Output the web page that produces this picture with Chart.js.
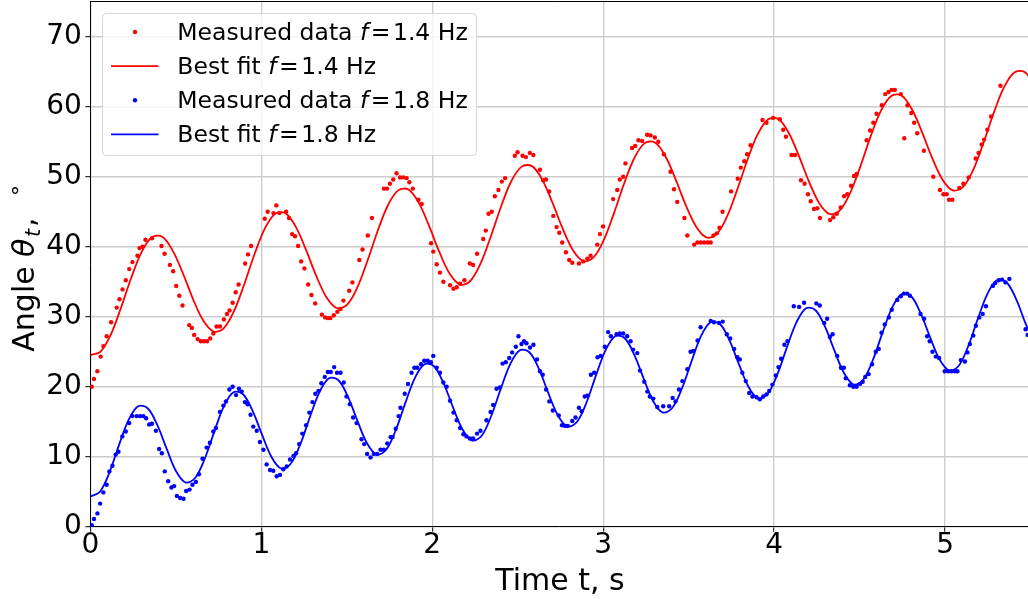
<!DOCTYPE html>
<html>
<head>
<meta charset="utf-8">
<script src="https://cdn.jsdelivr.net/npm/chart.js@4.4.0/dist/chart.umd.min.js"></script>
<style>
  html, body { margin: 0; padding: 0; background: #fff; }
  canvas { display: block; }
</style>
</head>
<body>
<canvas id="chart" width="1028" height="599"></canvas>
<script>
"use strict";

// measured angle, f = 1.4 Hz (time in s, angle in degrees)
const redTime = [
    0.008, 0.021, 0.041, 0.060, 0.076, 0.095, 0.121, 0.154, 0.170, 0.188,
    0.207, 0.227, 0.246, 0.275, 0.287, 0.305, 0.322, 0.361, 0.416, 0.434,
    0.465, 0.484, 0.502, 0.520, 0.539, 0.578, 0.594, 0.607, 0.627, 0.646,
    0.664, 0.682, 0.701, 0.719, 0.738, 0.758, 0.781, 0.799, 0.814, 0.832,
    0.850, 0.867, 0.905, 0.922, 0.940, 1.020, 1.037, 1.071, 1.088, 1.106,
    1.145, 1.162, 1.180, 1.197, 1.215, 1.233, 1.252, 1.274, 1.293, 1.315,
    1.354, 1.373, 1.389, 1.404, 1.424, 1.445, 1.463, 1.480, 1.514, 1.533,
    1.573, 1.592, 1.623, 1.647, 1.717, 1.735, 1.752, 1.772, 1.791, 1.811,
    1.830, 1.850, 1.866, 1.886, 1.919, 1.938, 1.993, 2.006, 2.026, 2.045,
    2.065, 2.104, 2.124, 2.143, 2.163, 2.188, 2.220, 2.239, 2.262, 2.298,
    2.313, 2.329, 2.348, 2.366, 2.387, 2.407, 2.426, 2.483, 2.499, 2.528,
    2.548, 2.571, 2.591, 2.630, 2.649, 2.665, 2.684, 2.708, 2.727, 2.743,
    2.760, 2.782, 2.801, 2.819, 2.858, 2.883, 2.907, 2.926, 2.965, 2.981,
    2.999, 3.058, 3.082, 3.097, 3.117, 3.130, 3.169, 3.187, 3.206, 3.228,
    3.257, 3.277, 3.302, 3.322, 3.355, 3.394, 3.414, 3.433, 3.475, 3.492,
    3.532, 3.551, 3.571, 3.591, 3.611, 3.629, 3.645, 3.664, 3.680, 3.698,
    3.748, 3.787, 3.805, 3.825, 3.842, 3.862, 3.932, 3.955, 3.994, 4.033,
    4.053, 4.069, 4.102, 4.122, 4.157, 4.178, 4.198, 4.214, 4.233, 4.252,
    4.268, 4.327, 4.346, 4.366, 4.389, 4.409, 4.428, 4.450, 4.467, 4.483,
    4.541, 4.561, 4.580, 4.599, 4.630, 4.650, 4.669, 4.687, 4.706, 4.741,
    4.761, 4.780, 4.802, 4.819, 4.837, 4.876, 4.931, 4.970, 4.990, 5.009,
    5.023, 5.042, 5.083, 5.107, 5.138, 5.179, 5.196, 5.214, 5.228, 5.247,
    5.269, 5.324
];
const redAngle = [
    20.0, 21.1, 22.2, 24.3, 25.8, 27.2, 29.2, 31.3, 32.5, 33.9,
    35.2, 36.8, 37.8, 38.7, 39.8, 40.0, 41.0, 41.2, 40.1, 39.0,
    37.4, 36.5, 34.4, 33.0, 31.6, 28.8, 28.4, 27.4, 26.8, 26.5,
    26.5, 26.5, 26.9, 27.6, 28.6, 28.6, 29.6, 30.4, 30.9, 32.0,
    33.5, 34.6, 37.6, 38.9, 40.1, 44.0, 45.0, 44.8, 45.9, 44.8,
    45.0, 44.1, 41.8, 41.5, 40.1, 37.9, 36.9, 34.6, 33.1, 31.9,
    30.3, 29.9, 29.8, 29.8, 30.2, 30.7, 31.1, 32.3, 33.7, 34.9,
    38.1, 39.6, 41.6, 44.1, 48.3, 48.3, 49.0, 49.6, 50.5, 49.9,
    49.9, 49.8, 49.2, 48.3, 46.7, 46.1, 40.5, 39.3, 37.5, 36.3,
    35.0, 34.5, 34.0, 34.2, 34.7, 35.2, 37.6, 37.4, 39.0, 41.1,
    42.3, 44.7, 45.0, 47.2, 48.1, 49.3, 49.8, 53.0, 53.5, 53.0,
    52.8, 53.4, 53.1, 51.0, 49.5, 49.6, 47.9, 44.4, 42.8, 42.0,
    40.6, 39.2, 38.1, 37.7, 37.6, 37.9, 38.3, 38.7, 40.3, 41.8,
    42.9, 46.8, 48.1, 49.6, 50.0, 51.9, 54.1, 54.4, 55.2, 55.1,
    56.0, 55.9, 55.6, 55.0, 53.2, 50.7, 48.2, 46.4, 44.1, 41.6,
    40.3, 40.6, 40.6, 40.6, 40.6, 40.6, 41.6, 41.9, 42.7, 45.0,
    47.9, 49.7, 51.3, 52.2, 53.2, 54.5, 58.1, 57.7, 58.4, 58.2,
    56.7, 55.7, 53.1, 53.1, 49.5, 49.0, 47.5, 46.5, 45.4, 45.5,
    44.1, 43.8, 44.2, 44.7, 45.6, 47.2, 47.5, 48.7, 50.1, 50.4,
    55.2, 56.6, 57.7, 59.0, 60.2, 61.8, 62.1, 62.4, 62.4, 61.8,
    55.5, 60.2, 59.1, 57.7, 56.2, 53.7, 50.0, 48.1, 47.5, 47.5,
    46.7, 46.7, 48.4, 49.0, 49.9, 52.6, 53.4, 54.6, 55.3, 56.7,
    58.6, 63.0
];

// measured angle, f = 1.8 Hz
const blueTime = [
    0.008, 0.021, 0.041, 0.057, 0.076, 0.095, 0.111, 0.129, 0.148, 0.164,
    0.187, 0.207, 0.227, 0.246, 0.271, 0.291, 0.310, 0.326, 0.344, 0.360,
    0.383, 0.402, 0.418, 0.435, 0.455, 0.474, 0.490, 0.506, 0.525, 0.545,
    0.560, 0.580, 0.597, 0.617, 0.635, 0.656, 0.680, 0.699, 0.719, 0.734,
    0.758, 0.778, 0.793, 0.813, 0.832, 0.852, 0.869, 0.885, 0.904, 0.920,
    0.937, 0.953, 0.973, 0.992, 1.012, 1.031, 1.051, 1.070, 1.090, 1.109,
    1.129, 1.148, 1.168, 1.188, 1.203, 1.221, 1.240, 1.262, 1.281, 1.299,
    1.316, 1.334, 1.351, 1.371, 1.389, 1.406, 1.426, 1.443, 1.463, 1.482,
    1.498, 1.518, 1.537, 1.557, 1.586, 1.602, 1.619, 1.639, 1.658, 1.678,
    1.697, 1.717, 1.737, 1.756, 1.768, 1.786, 1.803, 1.814, 1.839, 1.858,
    1.879, 1.895, 1.912, 1.934, 1.953, 1.973, 1.992, 2.006, 2.026, 2.045,
    2.065, 2.084, 2.104, 2.124, 2.143, 2.163, 2.182, 2.200, 2.220, 2.239,
    2.262, 2.282, 2.317, 2.341, 2.356, 2.376, 2.395, 2.411, 2.430, 2.450,
    2.467, 2.489, 2.504, 2.522, 2.537, 2.551, 2.572, 2.592, 2.613, 2.630,
    2.646, 2.666, 2.685, 2.705, 2.740, 2.759, 2.777, 2.792, 2.819, 2.838,
    2.858, 2.874, 2.892, 2.908, 2.928, 2.947, 2.967, 2.986, 3.009, 3.029,
    3.045, 3.078, 3.097, 3.117, 3.140, 3.160, 3.175, 3.199, 3.215, 3.240,
    3.258, 3.273, 3.293, 3.316, 3.351, 3.386, 3.406, 3.423, 3.443, 3.463,
    3.492, 3.511, 3.527, 3.552, 3.570, 3.629, 3.648, 3.677, 3.699, 3.723,
    3.743, 3.766, 3.785, 3.799, 3.814, 3.834, 3.854, 3.873, 3.897, 3.916,
    3.936, 3.955, 3.971, 3.990, 4.010, 4.025, 4.041, 4.060, 4.078, 4.115,
    4.146, 4.175, 4.247, 4.267, 4.293, 4.310, 4.326, 4.342, 4.369, 4.391,
    4.408, 4.419, 4.443, 4.463, 4.482, 4.502, 4.518, 4.533, 4.553, 4.573,
    4.595, 4.612, 4.628, 4.647, 4.671, 4.688, 4.720, 4.741, 4.759, 4.778,
    4.794, 4.856, 4.877, 4.895, 4.910, 4.926, 4.946, 4.965, 4.998, 5.018,
    5.037, 5.057, 5.072, 5.092, 5.116, 5.131, 5.145, 5.165, 5.180, 5.200,
    5.220, 5.239, 5.279, 5.294, 5.314, 5.333, 5.353, 5.376, 5.471, 5.483
];
const blueAngle = [
    0.2, 1.1, 1.9, 3.3, 4.9, 6.0, 7.9, 8.7, 10.3, 10.7,
    12.9, 13.6, 14.8, 15.8, 15.8, 15.8, 15.8, 15.5, 14.6, 14.7,
    13.7, 11.1, 10.5, 7.9, 6.5, 5.6, 5.8, 4.4, 4.1, 4.0,
    5.1, 5.3, 6.0, 6.4, 7.5, 9.7, 11.3, 12.0, 13.6, 14.1,
    16.4, 17.3, 17.9, 19.6, 20.0, 18.8, 19.7, 19.3, 17.8, 17.5,
    16.0, 14.3, 13.7, 12.1, 11.0, 8.9, 8.1, 8.0, 7.2, 7.4,
    8.2, 8.6, 9.6, 10.1, 10.5, 11.8, 13.3, 14.5, 16.3, 17.8,
    19.0, 19.4, 20.5, 21.4, 22.1, 22.1, 22.8, 22.0, 22.0, 20.6,
    18.6, 17.5, 15.6, 14.8, 12.5, 11.8, 10.4, 9.9, 10.4, 10.4,
    11.0, 11.0, 11.9, 12.8, 12.8, 14.0, 15.8, 17.0, 19.0, 20.4,
    22.0, 22.7, 22.7, 23.2, 23.7, 23.7, 23.5, 24.4, 22.7, 22.0,
    20.6, 20.0, 18.0, 16.3, 15.2, 14.1, 13.2, 12.9, 12.6, 12.6,
    13.3, 13.7, 15.2, 16.4, 17.4, 19.7, 19.9, 23.3, 23.5, 24.1,
    24.9, 25.7, 27.2, 26.1, 26.5, 26.2, 25.6, 26.0, 23.9, 22.2,
    21.7, 19.6, 17.9, 16.6, 15.9, 14.5, 14.4, 14.4, 15.1, 15.6,
    17.0, 16.5, 18.6, 18.7, 21.7, 22.0, 24.2, 24.4, 25.7, 27.8,
    27.2, 27.5, 27.6, 27.6, 27.2, 26.5, 25.3, 24.8, 22.3, 20.7,
    19.3, 18.6, 18.3, 17.1, 17.2, 17.2, 18.4, 17.9, 19.6, 20.8,
    22.5, 25.0, 25.1, 26.6, 28.5, 29.4, 29.2, 29.1, 29.3, 27.5,
    26.9, 25.4, 24.2, 23.9, 22.0, 20.8, 19.1, 18.6, 18.5, 18.2,
    18.6, 18.9, 19.4, 20.3, 21.6, 22.8, 24.0, 26.0, 26.5, 31.5,
    31.4, 32.0, 31.9, 31.6, 29.1, 29.7, 27.1, 27.5, 24.4, 22.7,
    22.7, 21.2, 20.2, 20.0, 20.0, 20.4, 20.7, 21.4, 21.8, 23.2,
    25.0, 25.4, 27.7, 28.9, 29.9, 31.0, 32.4, 32.9, 33.3, 33.3,
    33.0, 30.4, 29.7, 27.2, 26.5, 25.0, 24.3, 24.1, 22.2, 22.2,
    22.2, 22.2, 22.2, 23.8, 23.6, 24.9, 26.1, 27.3, 28.7, 29.9,
    30.4, 31.5, 34.4, 34.8, 35.2, 35.3, 34.9, 35.4, 28.2, 27.4
];

// best fit curve, f = 1.4 Hz
const redFitTime = [
    0.000, 0.060, 0.120, 0.180, 0.240, 0.300, 0.360, 0.420, 0.480, 0.541,
    0.601, 0.661, 0.721, 0.781, 0.841, 0.901, 0.961, 1.021, 1.081, 1.141,
    1.201, 1.261, 1.321, 1.381, 1.441, 1.502, 1.562, 1.622, 1.682, 1.742,
    1.802, 1.862, 1.922, 1.982, 2.042, 2.102, 2.162, 2.222, 2.282, 2.342,
    2.402, 2.462, 2.523, 2.583, 2.643, 2.703, 2.763, 2.823, 2.883, 2.943,
    3.003, 3.063, 3.123, 3.183, 3.243, 3.303, 3.363, 3.423, 3.483, 3.544,
    3.604, 3.664, 3.724, 3.784, 3.844, 3.904, 3.964, 4.024, 4.084, 4.144,
    4.204, 4.264, 4.324, 4.384, 4.444, 4.505, 4.565, 4.625, 4.685, 4.745,
    4.805, 4.865, 4.925, 4.985, 5.045, 5.105, 5.165, 5.225, 5.285, 5.345,
    5.405, 5.465, 5.526
];
const redFitAngle = [
    24.52, 25.02, 27.49, 31.35, 35.63, 39.27, 41.36, 41.43, 39.51, 36.21,
    32.49, 29.41, 27.88, 28.38, 30.85, 34.71, 38.99, 42.63, 44.72, 44.79,
    42.87, 39.57, 35.85, 32.77, 31.24, 31.74, 34.21, 38.07, 42.35, 45.99,
    48.08, 48.15, 46.23, 42.93, 39.21, 36.13, 34.60, 35.10, 37.57, 41.43,
    45.71, 49.35, 51.44, 51.51, 49.59, 46.29, 42.57, 39.49, 37.96, 38.46,
    40.93, 44.79, 49.07, 52.71, 54.80, 54.87, 52.95, 49.65, 45.93, 42.85,
    41.32, 41.82, 44.29, 48.15, 52.43, 56.07, 58.16, 58.23, 56.31, 53.01,
    49.29, 46.21, 44.68, 45.18, 47.65, 51.51, 55.79, 59.43, 61.52, 61.59,
    59.67, 56.37, 52.65, 49.57, 48.04, 48.54, 51.01, 54.87, 59.15, 62.79,
    64.88, 64.95, 63.03
];

// best fit curve, f = 1.8 Hz
const blueFitTime = [
    0.000, 0.056, 0.112, 0.167, 0.223, 0.279, 0.335, 0.391, 0.447, 0.502,
    0.558, 0.614, 0.670, 0.726, 0.781, 0.837, 0.893, 0.949, 1.005, 1.061,
    1.116, 1.172, 1.228, 1.284, 1.340, 1.396, 1.451, 1.507, 1.563, 1.619,
    1.675, 1.730, 1.786, 1.842, 1.898, 1.954, 2.010, 2.065, 2.121, 2.177,
    2.233, 2.289, 2.344, 2.400, 2.456, 2.512, 2.568, 2.624, 2.679, 2.735,
    2.791, 2.847, 2.903, 2.958, 3.014, 3.070, 3.126, 3.182, 3.238, 3.293,
    3.349, 3.405, 3.461, 3.517, 3.572, 3.628, 3.684, 3.740, 3.796, 3.852,
    3.907, 3.963, 4.019, 4.075, 4.131, 4.187, 4.242, 4.298, 4.354, 4.410,
    4.466, 4.521, 4.577, 4.633, 4.689, 4.745, 4.801, 4.856, 4.912, 4.968,
    5.024, 5.080, 5.135, 5.191, 5.247, 5.303, 5.359, 5.415, 5.470, 5.526
];
const blueFitAngle = [
    4.31, 5.00, 7.78, 11.65, 15.23, 17.21, 16.92, 14.54, 11.07, 7.89,
    6.31, 7.00, 9.78, 13.65, 17.23, 19.21, 18.92, 16.54, 13.07, 9.89,
    8.31, 9.00, 11.78, 15.65, 19.23, 21.21, 20.92, 18.54, 15.07, 11.89,
    10.31, 11.00, 13.78, 17.65, 21.23, 23.21, 22.92, 20.54, 17.07, 13.89,
    12.31, 13.00, 15.78, 19.65, 23.23, 25.21, 24.92, 22.54, 19.07, 15.89,
    14.31, 15.00, 17.78, 21.65, 25.23, 27.21, 26.92, 24.54, 21.07, 17.89,
    16.31, 17.00, 19.78, 23.65, 27.23, 29.21, 28.92, 26.54, 23.07, 19.89,
    18.31, 19.00, 21.78, 25.65, 29.23, 31.21, 30.92, 28.54, 25.07, 21.89,
    20.31, 21.00, 23.78, 27.65, 31.23, 33.21, 32.92, 30.54, 27.07, 23.89,
    22.31, 23.00, 25.78, 29.65, 33.23, 35.21, 34.92, 32.54, 29.07, 25.89
];

const xTickValues = [0, 1, 2, 3, 4, 5];
const yTickValues = [0, 10, 20, 30, 40, 50, 60, 70];

const xTitle = "Time t, s";
const legendRows = [
    { label: "Measured data", freq: "1.4", color: "#ff0000", marker: "dot" },
    { label: "Best fit", freq: "1.4", color: "#ff0000", marker: "line" },
    { label: "Measured data", freq: "1.8", color: "#0000ff", marker: "dot" },
    { label: "Best fit", freq: "1.8", color: "#0000ff", marker: "line" }
];

const FONT = '"DejaVu Sans", sans-serif';
const GRID = "#cccccc";

function toPoints(xs, ys) {
    return xs.map(function (x, i) {
        return { x: x, y: ys[i] };
    });
}

// axis titles, top spine and the legend box, drawn by hand
const decorations = {
    id: "decorations",
    afterDraw: function (chart) {
        const ctx = chart.ctx;
        const area = chart.chartArea;
        ctx.save();

        ctx.strokeStyle = "#000";
        ctx.lineWidth = 1;
        ctx.beginPath();
        ctx.moveTo(area.left, Math.floor(area.top) + 0.5);
        ctx.lineTo(area.right, Math.floor(area.top) + 0.5);
        ctx.stroke();

        ctx.fillStyle = "#000";
        ctx.font = "30px " + FONT;
        ctx.textAlign = "center";
        ctx.textBaseline = "alphabetic";
        ctx.fillText(xTitle, 560, 590);

        // y title: Angle θ_t, °
        ctx.save();
        ctx.translate(34, 268);
        ctx.rotate(-Math.PI / 2);
        ctx.textAlign = "left";
        ctx.font = "30px " + FONT;
        ctx.fillText("Angle", -83.7, 0);
        ctx.font = "italic 30px " + FONT;
        ctx.fillText("\u03b8", 11, 0);
        ctx.font = "italic 21px " + FONT;
        ctx.fillText("t", 31, 6);
        ctx.font = "30px " + FONT;
        ctx.fillText(",", 41, 0);
        ctx.font = "22px " + FONT;
        ctx.fillText("\u00b0", 72, -6);
        ctx.restore();

        // legend
        ctx.beginPath();
        ctx.roundRect(102.5, 13.5, 374, 142, 4);
        ctx.fillStyle = "rgba(255,255,255,0.8)";
        ctx.fill();
        ctx.strokeStyle = "rgba(204,204,204,0.8)";
        ctx.lineWidth = 1;
        ctx.stroke();

        const size = 23.5;
        const gap = 2.5;
        legendRows.forEach(function (row, i) {
            const base = 39.5 + i * 34.1;
            const mid = base - 7.5;
            if (row.marker === "dot") {
                ctx.beginPath();
                ctx.arc(135, mid, 2.2, 0, Math.PI * 2);
                ctx.fillStyle = row.color;
                ctx.fill();
            } else {
                ctx.beginPath();
                ctx.moveTo(111, mid);
                ctx.lineTo(158.5, mid);
                ctx.strokeStyle = row.color;
                ctx.lineWidth = 1.8;
                ctx.stroke();
            }
            ctx.fillStyle = "#000";
            ctx.textAlign = "left";
            let x = 177.3;
            ctx.font = size + "px " + FONT;
            const head = row.label + " ";
            ctx.fillText(head, x, base);
            x += ctx.measureText(head).width;
            ctx.font = "italic " + size + "px " + FONT;
            ctx.fillText("f", x, base);
            x += ctx.measureText("f").width + gap;
            ctx.font = size + "px " + FONT;
            ctx.fillText("=", x, base);
            x += ctx.measureText("=").width + gap;
            ctx.fillText(row.freq + " Hz", x, base);
        });

        ctx.restore();
    }
};

new Chart(document.getElementById("chart"), {
    type: "scatter",
    data: {
        datasets: [
            {
                label: "Measured data f = 1.4 Hz",
                data: toPoints(redTime, redAngle),
                backgroundColor: "#ff0000",
                pointRadius: 2.2,
                pointBorderWidth: 0,
                order: 4
            },
            {
                type: "line",
                label: "Best fit f = 1.4 Hz",
                data: toPoints(redFitTime, redFitAngle),
                borderColor: "#ff0000",
                borderWidth: 1.8,
                pointRadius: 0,
                tension: 0.35,
                fill: false,
                order: 3
            },
            {
                label: "Measured data f = 1.8 Hz",
                data: toPoints(blueTime, blueAngle),
                backgroundColor: "#0000ff",
                pointRadius: 2.2,
                pointBorderWidth: 0,
                order: 2
            },
            {
                type: "line",
                label: "Best fit f = 1.8 Hz",
                data: toPoints(blueFitTime, blueFitAngle),
                borderColor: "#0000ff",
                borderWidth: 1.8,
                pointRadius: 0,
                tension: 0.35,
                fill: false,
                order: 1
            }
        ]
    },
    options: {
        responsive: false,
        animation: false,
        layout: {
            autoPadding: false,
            padding: { top: 1.7, left: 0, right: 0, bottom: 0 }
        },
        plugins: {
            legend: { display: false },
            tooltip: { enabled: false }
        },
        scales: {
            x: {
                type: "linear",
                min: 0,
                max: 5.485,
                afterBuildTicks: function (scale) {
                    scale.ticks = xTickValues.map(function (v) {
                        return { value: v };
                    });
                },
                afterFit: function (scale) {
                    scale.height = 72.3;
                    scale.paddingLeft = 0;
                    scale.paddingRight = 0;
                },
                ticks: {
                    color: "#000",
                    padding: 0,
                    maxRotation: 0,
                    font: { family: FONT, size: 28, lineHeight: 1 }
                },
                grid: {
                    color: GRID,
                    lineWidth: 1.4,
                    tickColor: "#000",
                    tickLength: 5,
                    tickWidth: 1
                },
                border: { display: true, color: "#000", width: 1 }
            },
            y: {
                type: "linear",
                min: 0,
                max: 75,
                afterBuildTicks: function (scale) {
                    scale.ticks = yTickValues.map(function (v) {
                        return { value: v };
                    });
                },
                afterFit: function (scale) {
                    scale.width = 90.4;
                    scale.paddingTop = 0;
                    scale.paddingBottom = 0;
                },
                ticks: {
                    color: "#000",
                    padding: 3.5,
                    font: { family: FONT, size: 28 }
                },
                grid: {
                    color: GRID,
                    lineWidth: 1.4,
                    tickColor: "#000",
                    tickLength: 5,
                    tickWidth: 1
                },
                border: { display: true, color: "#000", width: 1 }
            }
        }
    },
    plugins: [decorations]
});
</script>
</body>
</html>
